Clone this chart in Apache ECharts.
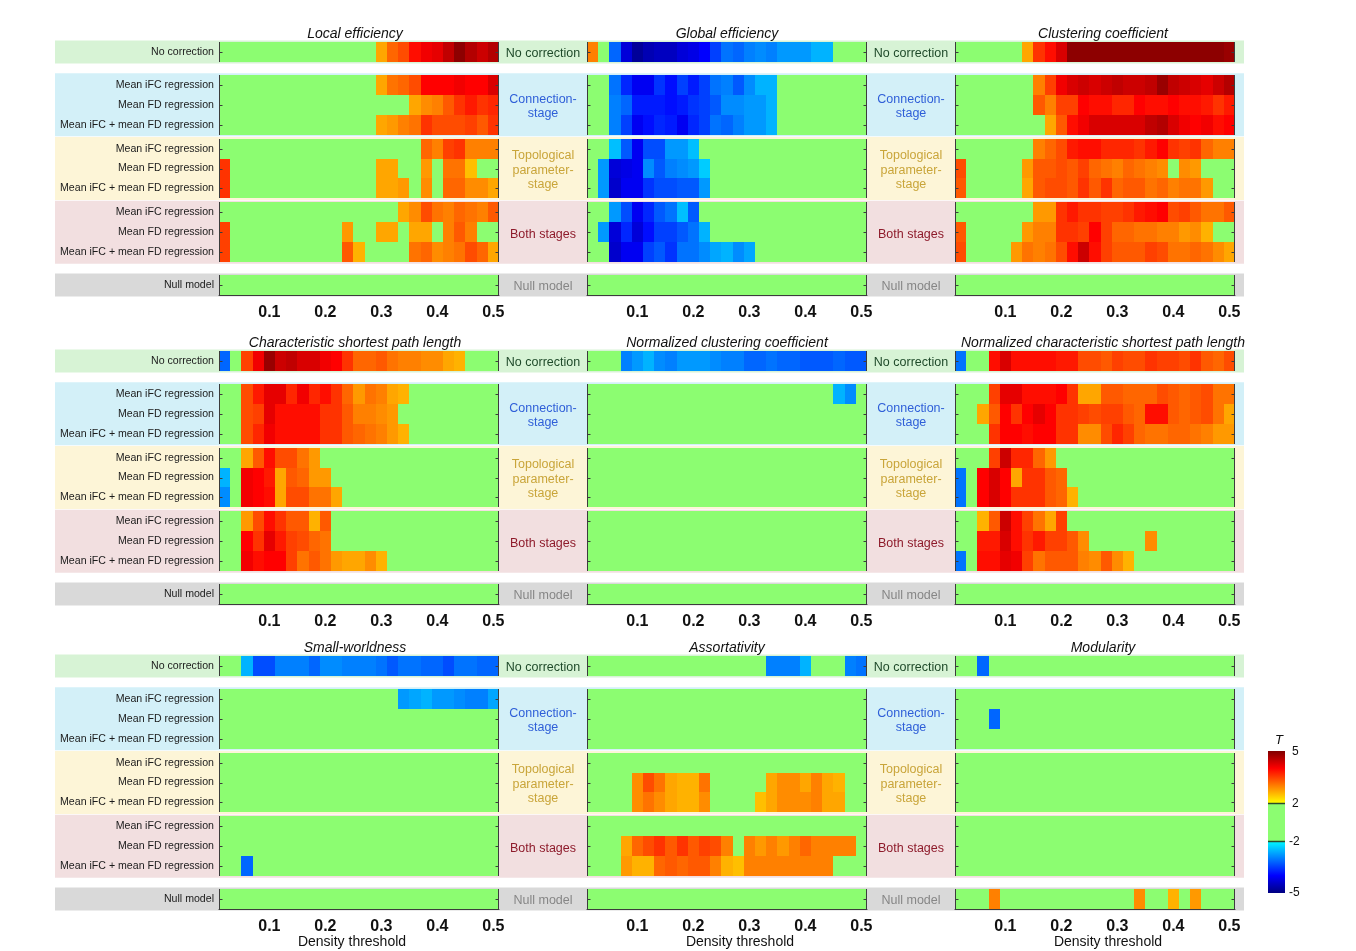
<!DOCTYPE html>
<html>
<head>
<meta charset="utf-8">
<script src="https://cdn.jsdelivr.net/npm/echarts@6/dist/echarts.min.js"></script>
<style>
  html, body { margin: 0; padding: 0; background: #ffffff; }
  #chart { width: 1356px; height: 951px; }
</style>
</head>
<body>
<div id="chart"></div>
<script>
// ---- Axis values and labels ----
const densities = [0.02, 0.04, 0.06, 0.08, 0.10, 0.12, 0.14, 0.16, 0.18, 0.20, 0.22, 0.24, 0.26,
                   0.28, 0.30, 0.32, 0.34, 0.36, 0.38, 0.40, 0.42, 0.44, 0.46, 0.48, 0.50];
const xTicks = [0.1, 0.2, 0.3, 0.4, 0.5];
const rowLabels = [
  'No correction',
  'Mean iFC regression', 'Mean FD regression', 'Mean iFC + mean FD regression',
  'Mean iFC regression', 'Mean FD regression', 'Mean iFC + mean FD regression',
  'Mean iFC regression', 'Mean FD regression', 'Mean iFC + mean FD regression',
  'Null model'
];
const stageLabels = ['No correction', 'Connection-\nstage', 'Topological\nparameter-\nstage', 'Both stages', 'Null model'];
const panelTitles = [
  'Local efficiency', 'Global efficiency', 'Clustering coefficient',
  'Characteristic shortest path length', 'Normalized clustering coefficient', 'Normalized characteristic shortest path length',
  'Small-worldness', 'Assortativity', 'Modularity'
];
const colorbarTicks = [5, 2, -2, -5];

// ---- T values: one row per correction strategy, one column per density ----
const localEfficiency = [
  [0,0,0,0,0,0,0,0,0,0,0,0,0,0,2.7,3.2,3.4,3.9,4.1,4.2,4.5,4.9,4.6,4.4,4.6],
  [0,0,0,0,0,0,0,0,0,0,0,0,0,0,2.7,3.1,3.2,3.4,4.0,4.0,4.0,4.1,4.0,4.0,4.3],
  [0,0,0,0,0,0,0,0,0,0,0,0,0,0,0,0,0,2.7,2.9,3.0,3.3,3.6,3.8,3.6,3.7],
  [0,0,0,0,0,0,0,0,0,0,0,0,0,0,2.7,2.8,3.0,3.1,3.6,3.4,3.4,3.4,3.5,3.3,3.6],
  [0,0,0,0,0,0,0,0,0,0,0,0,0,0,0,0,0,0,3.2,3.0,3.5,3.6,3.0,3.0,3.0],
  [3.6,0,0,0,0,0,0,0,0,0,0,0,0,0,2.7,2.7,0,0,2.8,0,3.1,3.1,2.5,0,0],
  [3.6,0,0,0,0,0,0,0,0,0,0,0,0,0,2.7,2.7,2.8,0,2.9,0,3.2,3.2,2.9,2.9,2.7],
  [0,0,0,0,0,0,0,0,0,0,0,0,0,0,0,0,2.7,2.9,3.4,3.1,3.0,3.2,3.1,3.0,3.3],
  [3.5,0,0,0,0,0,0,0,0,0,0,2.8,0,0,2.7,2.7,0,2.7,2.7,0,3.0,3.3,3.0,0,0],
  [3.5,0,0,0,0,0,0,0,0,0,0,3.3,2.6,0,0,0,0,3.1,3.2,2.9,3.0,3.1,3.4,3.2,2.7],
  [0,0,0,0,0,0,0,0,0,0,0,0,0,0,0,0,0,0,0,0,0,0,0,0,0]
];
const globalEfficiency = [
  [3.0,0,-3.2,-4.3,-4.8,-4.6,-4.5,-4.5,-4.3,-4.2,-4.0,-3.5,-3.1,-3.2,-3.0,-2.9,-3.0,-2.8,-2.8,-2.8,-2.6,-2.6,0,0,0],
  [0,0,-3.1,-3.7,-4.1,-4.1,-3.6,-3.9,-3.5,-3.8,-3.5,-3.1,-3.0,-3.3,-2.9,-2.6,-2.6,0,0,0,0,0,0,0,0],
  [0,0,-3.0,-3.2,-3.8,-3.8,-3.8,-3.9,-3.8,-3.6,-3.5,-3.3,-2.9,-2.9,-2.8,-2.8,-2.6,0,0,0,0,0,0,0,0],
  [0,0,-3.0,-3.5,-4.1,-3.9,-3.7,-3.8,-4.1,-3.7,-3.5,-3.1,-3.2,-3.0,-2.8,-2.8,-2.6,0,0,0,0,0,0,0,0],
  [0,0,-2.5,-3.3,-4.1,-3.4,-3.4,-2.8,-2.8,-2.5,0,0,0,0,0,0,0,0,0,0,0,0,0,0,0],
  [0,-2.8,-4.3,-4.2,-4.1,-2.9,-3.3,-3.0,-2.9,-2.8,-2.4,0,0,0,0,0,0,0,0,0,0,0,0,0,0],
  [0,-2.8,-4.4,-4.1,-4.1,-3.6,-3.4,-3.4,-3.3,-3.3,-2.8,0,0,0,0,0,0,0,0,0,0,0,0,0,0],
  [0,0,-2.8,-3.4,-4.1,-3.7,-3.3,-3.1,-2.5,-3.3,0,0,0,0,0,0,0,0,0,0,0,0,0,0,0],
  [0,-2.8,-4.3,-3.7,-4.3,-3.9,-3.5,-3.5,-3.3,-3.1,-2.6,0,0,0,0,0,0,0,0,0,0,0,0,0,0],
  [0,0,-4.4,-4.1,-4.1,-3.5,-3.3,-3.6,-3.1,-3.1,-2.9,-2.7,-2.6,-2.9,-2.7,0,0,0,0,0,0,0,0,0,0],
  [0,0,0,0,0,0,0,0,0,0,0,0,0,0,0,0,0,0,0,0,0,0,0,0,0]
];
const clusteringCoefficient = [
  [0,0,0,0,0,0,2.7,3.6,3.9,4.3,4.9,4.9,4.9,4.9,4.9,4.9,4.9,4.9,4.9,4.9,4.9,4.9,4.9,4.9,4.8],
  [0,0,0,0,0,0,0,3.0,3.5,4.1,4.3,4.4,4.3,4.4,4.5,4.4,4.4,4.5,4.8,4.5,4.4,4.3,4.2,4.4,4.6],
  [0,0,0,0,0,0,0,3.3,3.0,3.5,3.5,4.0,3.9,3.9,3.7,3.7,4.0,3.9,3.9,4.0,3.9,3.9,3.8,3.6,3.8],
  [0,0,0,0,0,0,0,0,2.7,3.3,3.9,4.1,4.3,4.3,4.3,4.3,4.3,4.5,4.6,4.3,4.1,4.0,4.1,3.9,4.0],
  [0,0,0,0,0,0,0,3.0,3.2,3.4,3.8,3.9,3.9,3.7,3.7,3.7,3.6,3.8,4.0,3.6,3.5,3.6,3.2,3.0,3.0],
  [3.4,0,0,0,0,0,2.8,3.3,3.3,3.4,3.3,3.5,3.2,3.1,3.0,3.2,3.1,3.0,2.9,0,2.9,2.8,0,0,0],
  [3.3,0,0,0,0,0,2.7,3.3,3.4,3.4,3.3,3.6,3.3,3.6,3.2,3.3,3.3,3.1,3.2,3.0,3.1,3.1,2.8,0,0],
  [0,0,0,0,0,0,0,2.8,2.8,3.6,3.8,3.6,3.6,3.5,3.5,3.6,3.8,3.9,4.0,3.4,3.5,3.3,3.1,3.1,3.3],
  [3.3,0,0,0,0,0,2.8,3.0,3.0,3.6,3.6,3.5,4.0,3.5,3.2,3.2,3.1,3.1,3.0,3.0,2.8,2.9,2.6,0,0],
  [3.4,0,0,0,0,2.8,3.1,3.0,3.1,3.4,3.9,4.4,3.9,3.5,3.3,3.3,3.3,3.5,3.4,3.1,3.1,3.2,3.1,2.9,2.7],
  [0,0,0,0,0,0,0,0,0,0,0,0,0,0,0,0,0,0,0,0,0,0,0,0,0]
];
const characteristicPath = [
  [-3.2,0,3.5,4.1,4.8,4.4,4.5,4.3,4.3,4.1,4.0,3.6,3.2,3.2,3.3,3.1,3.0,3.0,2.9,2.9,2.7,2.6,0,0,0],
  [0,0,3.4,3.8,4.2,4.2,3.7,4.1,3.7,3.9,3.6,3.2,2.8,3.1,3.0,2.7,2.6,0,0,0,0,0,0,0,0],
  [0,0,3.4,3.5,4.2,3.9,3.9,3.9,3.9,3.6,3.6,3.3,3.0,3.0,2.9,2.8,0,0,0,0,0,0,0,0,0],
  [0,0,3.4,3.7,4.1,3.9,3.9,3.9,3.9,3.6,3.6,3.3,3.2,3.1,3.0,2.8,2.6,0,0,0,0,0,0,0,0],
  [0,0,2.7,3.3,3.9,3.4,3.4,3.1,2.8,0,0,0,0,0,0,0,0,0,0,0,0,0,0,0,0],
  [-2.6,0,4.1,4.0,3.8,2.7,3.3,3.2,2.8,2.8,0,0,0,0,0,0,0,0,0,0,0,0,0,0,0],
  [-2.9,0,4.1,4.0,3.9,2.7,3.4,3.4,3.1,3.1,2.7,0,0,0,0,0,0,0,0,0,0,0,0,0,0],
  [0,0,2.8,3.4,3.9,3.6,3.3,3.3,2.6,3.3,0,0,0,0,0,0,0,0,0,0,0,0,0,0,0],
  [0,0,4.0,3.6,4.2,3.8,3.5,3.4,3.2,3.1,0,0,0,0,0,0,0,0,0,0,0,0,0,0,0],
  [0,0,4.1,3.9,4.0,4.0,3.5,3.1,3.3,3.1,2.8,2.7,2.7,2.9,2.6,0,0,0,0,0,0,0,0,0,0],
  [0,0,0,0,0,0,0,0,0,0,0,0,0,0,0,0,0,0,0,0,0,0,0,0,0]
];
const normalizedClustering = [
  [0,0,0,-3.0,-2.8,-2.6,-2.9,-3.0,-2.8,-2.8,-2.8,-2.9,-3.0,-3.0,-3.2,-3.2,-3.1,-3.2,-3.2,-3.3,-3.3,-3.3,-3.2,-3.3,-3.3],
  [0,0,0,0,0,0,0,0,0,0,0,0,0,0,0,0,0,0,0,0,0,0,-2.6,-2.9,0],
  [0,0,0,0,0,0,0,0,0,0,0,0,0,0,0,0,0,0,0,0,0,0,0,0,0],
  [0,0,0,0,0,0,0,0,0,0,0,0,0,0,0,0,0,0,0,0,0,0,0,0,0],
  [0,0,0,0,0,0,0,0,0,0,0,0,0,0,0,0,0,0,0,0,0,0,0,0,0],
  [0,0,0,0,0,0,0,0,0,0,0,0,0,0,0,0,0,0,0,0,0,0,0,0,0],
  [0,0,0,0,0,0,0,0,0,0,0,0,0,0,0,0,0,0,0,0,0,0,0,0,0],
  [0,0,0,0,0,0,0,0,0,0,0,0,0,0,0,0,0,0,0,0,0,0,0,0,0],
  [0,0,0,0,0,0,0,0,0,0,0,0,0,0,0,0,0,0,0,0,0,0,0,0,0],
  [0,0,0,0,0,0,0,0,0,0,0,0,0,0,0,0,0,0,0,0,0,0,0,0,0],
  [0,0,0,0,0,0,0,0,0,0,0,0,0,0,0,0,0,0,0,0,0,0,0,0,0]
];
const normalizedPath = [
  [-3.1,0,0,3.9,4.3,3.9,3.9,3.9,3.9,3.8,3.8,3.4,3.4,3.3,3.5,3.4,3.4,3.6,3.5,3.5,3.4,3.6,3.3,3.2,3.4],
  [0,0,0,3.5,4.2,4.2,3.9,3.9,3.9,4.0,3.6,2.7,2.7,3.3,3.3,3.2,3.2,3.2,3.4,3.3,3.2,3.3,3.4,3.1,3.1],
  [0,0,2.7,3.3,4.0,3.6,4.0,4.2,4.0,3.6,3.6,3.5,3.4,3.5,3.5,3.3,3.2,3.9,3.9,3.3,3.2,3.3,3.4,3.1,2.7],
  [0,0,0,3.6,4.0,4.0,3.9,4.0,4.0,3.6,3.6,2.9,2.9,3.4,3.7,3.5,3.2,3.1,3.1,3.2,3.2,3.1,3.0,2.8,2.8],
  [0,0,0,3.5,4.4,3.7,3.7,3.2,2.8,0,0,0,0,0,0,0,0,0,0,0,0,0,0,0,0],
  [-3.1,0,4.0,4.3,4.0,2.7,3.6,3.6,3.3,3.2,0,0,0,0,0,0,0,0,0,0,0,0,0,0,0],
  [-3.1,0,4.0,4.3,4.0,3.6,3.6,3.6,3.3,3.2,2.6,0,0,0,0,0,0,0,0,0,0,0,0,0,0],
  [0,0,2.6,3.3,4.4,3.9,3.5,3.1,2.7,3.5,0,0,0,0,0,0,0,0,0,0,0,0,0,0,0],
  [0,0,3.8,3.8,4.3,3.9,3.6,3.8,3.5,3.5,3.3,2.9,0,0,0,0,0,2.9,0,0,0,0,0,0,0],
  [-3.1,0,3.9,3.9,4.2,4.1,3.5,3.1,3.3,3.3,3.3,3.0,2.9,3.3,2.9,2.6,0,0,0,0,0,0,0,0,0],
  [0,0,0,0,0,0,0,0,0,0,0,0,0,0,0,0,0,0,0,0,0,0,0,0,0]
];
const smallWorldness = [
  [0,0,-2.6,-3.4,-3.4,-3.0,-3.0,-3.0,-3.2,-2.9,-2.9,-3.0,-3.0,-3.0,-3.1,-3.3,-3.1,-3.1,-3.2,-3.2,-3.4,-3.1,-3.1,-3.2,-3.2],
  [0,0,0,0,0,0,0,0,0,0,0,0,0,0,0,0,-2.8,-2.7,-2.6,-2.8,-2.8,-2.9,-3.0,-3.0,-2.7],
  [0,0,0,0,0,0,0,0,0,0,0,0,0,0,0,0,0,0,0,0,0,0,0,0,0],
  [0,0,0,0,0,0,0,0,0,0,0,0,0,0,0,0,0,0,0,0,0,0,0,0,0],
  [0,0,0,0,0,0,0,0,0,0,0,0,0,0,0,0,0,0,0,0,0,0,0,0,0],
  [0,0,0,0,0,0,0,0,0,0,0,0,0,0,0,0,0,0,0,0,0,0,0,0,0],
  [0,0,0,0,0,0,0,0,0,0,0,0,0,0,0,0,0,0,0,0,0,0,0,0,0],
  [0,0,0,0,0,0,0,0,0,0,0,0,0,0,0,0,0,0,0,0,0,0,0,0,0],
  [0,0,0,0,0,0,0,0,0,0,0,0,0,0,0,0,0,0,0,0,0,0,0,0,0],
  [0,0,-3.2,0,0,0,0,0,0,0,0,0,0,0,0,0,0,0,0,0,0,0,0,0,0],
  [0,0,0,0,0,0,0,0,0,0,0,0,0,0,0,0,0,0,0,0,0,0,0,0,0]
];
const assortativity = [
  [0,0,0,0,0,0,0,0,0,0,0,0,0,0,0,0,-3.0,-3.0,-3.0,-2.6,0,0,0,-3.0,-3.1],
  [0,0,0,0,0,0,0,0,0,0,0,0,0,0,0,0,0,0,0,0,0,0,0,0,0],
  [0,0,0,0,0,0,0,0,0,0,0,0,0,0,0,0,0,0,0,0,0,0,0,0,0],
  [0,0,0,0,0,0,0,0,0,0,0,0,0,0,0,0,0,0,0,0,0,0,0,0,0],
  [0,0,0,0,0,0,0,0,0,0,0,0,0,0,0,0,0,0,0,0,0,0,0,0,0],
  [0,0,0,0,2.9,3.4,3.1,2.7,2.6,2.6,3.1,0,0,0,0,0,2.7,2.9,2.9,2.7,3.0,2.7,2.6,0,0],
  [0,0,0,0,2.9,3.1,2.9,2.7,2.6,2.6,2.9,0,0,0,0,2.5,2.7,2.9,2.9,2.9,3.0,2.7,2.7,0,0],
  [0,0,0,0,0,0,0,0,0,0,0,0,0,0,0,0,0,0,0,0,0,0,0,0,0],
  [0,0,0,2.7,3.2,3.4,3.6,3.3,3.6,3.3,3.5,3.4,3.0,0,3.0,2.8,3.0,2.8,3.0,3.2,3.0,3.0,3.0,3.0,0],
  [0,0,0,2.8,2.6,2.6,3.2,3.3,3.2,3.3,3.3,3.0,2.6,2.5,3.0,3.0,3.0,3.0,3.0,3.0,3.0,3.0,0,0,0],
  [0,0,0,0,0,0,0,0,0,0,0,0,0,0,0,0,0,0,0,0,0,0,0,0,0]
];
const modularity = [
  [0,0,-3.2,0,0,0,0,0,0,0,0,0,0,0,0,0,0,0,0,0,0,0,0,0,0],
  [0,0,0,0,0,0,0,0,0,0,0,0,0,0,0,0,0,0,0,0,0,0,0,0,0],
  [0,0,0,-3.2,0,0,0,0,0,0,0,0,0,0,0,0,0,0,0,0,0,0,0,0,0],
  [0,0,0,0,0,0,0,0,0,0,0,0,0,0,0,0,0,0,0,0,0,0,0,0,0],
  [0,0,0,0,0,0,0,0,0,0,0,0,0,0,0,0,0,0,0,0,0,0,0,0,0],
  [0,0,0,0,0,0,0,0,0,0,0,0,0,0,0,0,0,0,0,0,0,0,0,0,0],
  [0,0,0,0,0,0,0,0,0,0,0,0,0,0,0,0,0,0,0,0,0,0,0,0,0],
  [0,0,0,0,0,0,0,0,0,0,0,0,0,0,0,0,0,0,0,0,0,0,0,0,0],
  [0,0,0,0,0,0,0,0,0,0,0,0,0,0,0,0,0,0,0,0,0,0,0,0,0],
  [0,0,0,0,0,0,0,0,0,0,0,0,0,0,0,0,0,0,0,0,0,0,0,0,0],
  [0,0,0,3.0,0,0,0,0,0,0,0,0,0,0,0,0,2.9,0,0,2.6,0,2.8,0,0,0]
];

const panels = [localEfficiency, globalEfficiency, clusteringCoefficient,
                characteristicPath, normalizedClustering, normalizedPath,
                smallWorldness, assortativity, modularity];

// ---- Layout ----
const FONT = 'Arial, "Liberation Sans", Helvetica, sans-serif';
const GRID_LEFT = [219, 587, 955];
const GRID_TOP = [42, 351, 656];
const GRID_W = 280, GRID_H = 253;
const BAND_X0 = 55, BAND_X1 = 1244;
// y-axis units: each row is 1 unit tall, spacers between groups
const ROW_TOP = [0, 1.65, 2.65, 3.65, 4.85, 5.85, 6.85, 8.05, 9.05, 10.05, 11.7];
const ROW_CENTERS = ROW_TOP.map(t => t + 0.5);
const Y_MAX = 12.7;
const GROUPS = [[0, 1], [1.65, 4.65], [4.85, 7.85], [8.05, 11.05], [11.7, 12.7]];
const BAND_COLORS = ['#d7f3d5', '#d3f0f8', '#fdf5d7', '#f2dfe0', '#d9d9d9'];
const STAGE_COLORS = ['#1f4a2a', '#2f5fd8', '#c9a53a', '#8e1b2b', '#868686'];
const GREEN = '#8cfd71';
const PX_PER_UNIT = GRID_H / Y_MAX;

// T colour scale: green inside (-2, 2), jet-like ramps outside
function tColor(t) {
  const rgb = (r, g, b) => 'rgb(' + Math.round(r) + ',' + Math.round(g) + ',' + Math.round(b) + ')';
  if (t >= 2) {
    if (t <= 4) return rgb(255, 255 * (1 - (t - 2) / 2), 0);
    return rgb(255 - 127 * Math.min(1, t - 4), 0, 0);
  }
  if (t <= -2) {
    if (t >= -4) return rgb(0, 255 * (1 - (-t - 2) / 2), 255);
    return rgb(0, 0, 255 - 127 * Math.min(1, -t - 4));
  }
  return GREEN;
}
const colorStops = [];
for (let i = 0; i <= 200; i++) colorStops.push(tColor(-5 + i * 0.05));

// ---- Render helpers ----
function renderCell(params, api) {
  const d = api.value(0), r = api.value(1);
  const a = api.coord([d - 0.01, ROW_TOP[r]]);
  const b = api.coord([d + 0.01, ROW_TOP[r] + 1]);
  const x0 = Math.round(Math.min(a[0], b[0])), x1 = Math.round(Math.max(a[0], b[0]));
  const y0 = Math.round(Math.min(a[1], b[1])), y1 = Math.round(Math.max(a[1], b[1]));
  const c = api.visual('color');
  return { type: 'rect', shape: { x: x0, y: y0, width: x1 - x0, height: y1 - y0 }, style: { fill: c } };
}

function renderFrame(params, api) {
  const g0 = api.value(1), g1 = api.value(2);
  const a = api.coord([0.01, g0]);
  const b = api.coord([0.51, g1]);
  const L = Math.round(a[0]) + 0.5, R = Math.round(b[0]) - 0.5;
  const T = Math.round(a[1]), B = Math.round(b[1]);
  const st = { stroke: '#3c3c3c', lineWidth: 1 };
  const children = [
    { type: 'line', shape: { x1: L, y1: T, x2: L, y2: B }, style: st },
    { type: 'line', shape: { x1: R, y1: T, x2: R, y2: B }, style: st }
  ];
  ROW_CENTERS.forEach(c => {
    if (c > g0 && c < g1) {
      const y = Math.round(api.coord([0.2, c])[1]) + 0.5;
      children.push({ type: 'line', shape: { x1: L, y1: y, x2: L + 3, y2: y }, style: st });
      children.push({ type: 'line', shape: { x1: R - 3, y1: y, x2: R, y2: y }, style: st });
    }
  });
  return { type: 'group', children };
}

// ---- Build option ----
const grids = [], xAxes = [], yAxes = [], cellSeries = [], frameSeries = [];
panels.forEach((rows, p) => {
  const col = p % 3, row = Math.floor(p / 3);
  grids.push({ left: GRID_LEFT[col], top: GRID_TOP[row], width: GRID_W, height: GRID_H,
               containLabel: false, outerBoundsMode: 'none' });
  xAxes.push({
    type: 'value', gridIndex: p, min: 0.01, max: 0.51, position: 'bottom',
    splitLine: { show: false },
    axisLine: { show: true, onZero: false, lineStyle: { color: '#3c3c3c', width: 1 } },
    axisTick: { show: true, inside: true, length: 3, customValues: xTicks, lineStyle: { color: '#3c3c3c' } },
    axisLabel: { show: true, customValues: xTicks, formatter: v => v.toFixed(1),
                 fontFamily: FONT, fontSize: 16, fontWeight: 'bold', color: '#111', margin: 10 }
  });
  yAxes.push({
    type: 'value', gridIndex: p, min: 0, max: Y_MAX, inverse: true,
    splitLine: { show: false }, axisLine: { show: false, onZero: false }, axisTick: { show: false },
    axisLabel: {
      show: col === 0, customValues: ROW_CENTERS,
      formatter: v => { const i = ROW_CENTERS.findIndex(c => Math.abs(c - v) < 1e-6); return i >= 0 ? rowLabels[i] : ''; },
      fontFamily: FONT, fontSize: 10.6, color: '#1b1b1b', margin: 5
    }
  });
  const data = [];
  rows.forEach((vals, r) => vals.forEach((t, k) => data.push([densities[k], r, t])));
  cellSeries.push({ type: 'custom', xAxisIndex: p, yAxisIndex: p, data, renderItem: renderCell,
                    clip: false, silent: true, z: 2, animation: false });
  frameSeries.push({ type: 'custom', xAxisIndex: p, yAxisIndex: p,
                     data: GROUPS.map(g => [0.26, g[0], g[1]]), renderItem: renderFrame,
                     clip: false, silent: true, z: 3, animation: false });
});

// ---- Decorations: bands, stage labels, titles, colour bar ----
const graphics = [];
for (let row = 0; row < 3; row++) {
  GROUPS.forEach((g, gi) => {
    const y0 = GRID_TOP[row] + g[0] * PX_PER_UNIT - 1.5;
    const y1 = GRID_TOP[row] + g[1] * PX_PER_UNIT + 1.5;
    graphics.push({ type: 'rect', z: -10, silent: true,
      shape: { x: BAND_X0, y: y0, width: BAND_X1 - BAND_X0, height: y1 - y0 },
      style: { fill: BAND_COLORS[gi] } });
    [543, 911].forEach(cx => {
      graphics.push({ type: 'text', z: 10, silent: true,
        style: { text: stageLabels[gi], x: cx, y: (y0 + y1) / 2 + 2, textAlign: 'center', textVerticalAlign: 'middle',
                 font: '12.5px ' + FONT, fill: STAGE_COLORS[gi], lineHeight: 14.5 } });
    });
  });
}
const TITLE_X = [355, 727, 1103];
panelTitles.forEach((t, p) => {
  const col = p % 3, row = Math.floor(p / 3);
  graphics.push({ type: 'text', z: 10, silent: true,
    style: { text: t, x: TITLE_X[col], y: GRID_TOP[row] - 8, textAlign: 'center', textVerticalAlign: 'middle',
             font: 'italic 14px ' + FONT, fill: '#111' } });
});
[352, 740, 1108].forEach(cx => {
  graphics.push({ type: 'text', z: 10, silent: true,
    style: { text: 'Density threshold', x: cx, y: 942, textAlign: 'center', textVerticalAlign: 'middle',
             font: '14px ' + FONT, fill: '#111' } });
});

// colour bar: 5..2 ramp, green band, -2..-5 ramp
const CB_X = 1268, CB_W = 17, CB_TOP = 751, CB_P2 = 803, CB_M2 = 841, CB_BOT = 893;
const rampStops = (from, to) => {
  const s = [];
  for (let i = 0; i <= 12; i++) s.push({ offset: i / 12, color: tColor(from + (to - from) * i / 12) });
  return s;
};
graphics.push({ type: 'rect', z: 5, silent: true, shape: { x: CB_X, y: CB_TOP, width: CB_W, height: CB_P2 - CB_TOP },
  style: { fill: new echarts.graphic.LinearGradient(0, 0, 0, 1, rampStops(5, 2.02)) } });
graphics.push({ type: 'rect', z: 5, silent: true, shape: { x: CB_X, y: CB_P2, width: CB_W, height: CB_M2 - CB_P2 },
  style: { fill: GREEN } });
graphics.push({ type: 'rect', z: 5, silent: true, shape: { x: CB_X, y: CB_M2, width: CB_W, height: CB_BOT - CB_M2 },
  style: { fill: new echarts.graphic.LinearGradient(0, 0, 0, 1, rampStops(-2.02, -5)) } });
[CB_P2, CB_M2].forEach(y => graphics.push({ type: 'line', z: 6, silent: true,
  shape: { x1: CB_X, y1: y + 0.5, x2: CB_X + CB_W, y2: y + 0.5 }, style: { stroke: '#2c4a2c', lineWidth: 1.5 } }));
const cbY = [CB_TOP + 1, CB_P2 + 1, CB_M2 + 1, CB_BOT];
colorbarTicks.forEach((v, i) => graphics.push({ type: 'text', z: 6, silent: true,
  style: { text: String(v), x: v < 0 ? 1289 : 1292, y: cbY[i], textAlign: 'left', textVerticalAlign: 'middle',
           font: '12px ' + FONT, fill: '#111' } }));
graphics.push({ type: 'text', z: 6, silent: true,
  style: { text: 'T', x: 1279, y: 740, textAlign: 'center', textVerticalAlign: 'middle', font: 'italic 13px ' + FONT, fill: '#111' } });

const chart = echarts.init(document.getElementById('chart'), null, { renderer: 'canvas' });
chart.setOption({
  animation: false,
  backgroundColor: '#ffffff',
  grid: grids,
  xAxis: xAxes,
  yAxis: yAxes,
  visualMap: {
    type: 'continuous', show: false, min: -5, max: 5, dimension: 2,
    seriesIndex: cellSeries.map((s, i) => i),
    inRange: { color: colorStops }
  },
  graphic: { elements: graphics },
  series: cellSeries.concat(frameSeries)
});
</script>
</body>
</html>
